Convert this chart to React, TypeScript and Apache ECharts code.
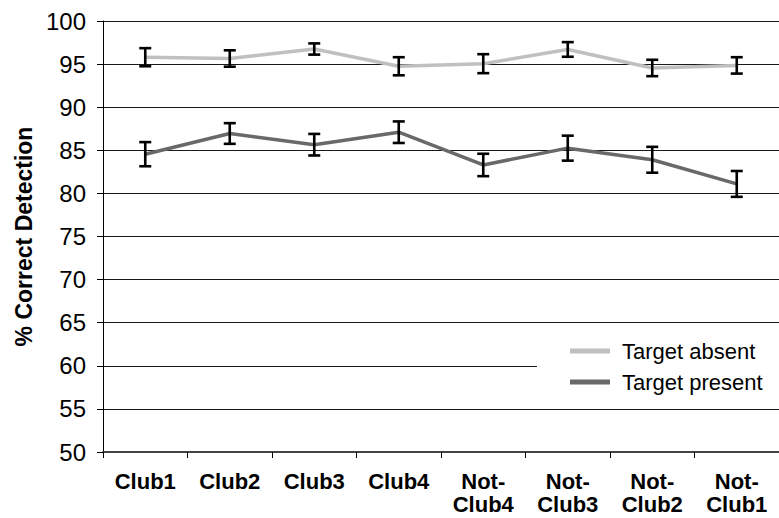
import React, { useEffect, useRef } from "react";
import * as echarts from "echarts";

const categories = ["Club1", "Club2", "Club3", "Club4", "Not-\nClub4", "Not-\nClub3", "Not-\nClub2", "Not-\nClub1"];
const absentValues = [95.8, 95.65, 96.75, 94.75, 95.05, 96.7, 94.55, 94.85];
const absentErrors = [1.05, 0.95, 0.65, 1.05, 1.1, 0.85, 0.95, 0.95];
const presentValues = [84.55, 86.95, 85.65, 87.1, 83.3, 85.25, 83.9, 81.1];
const presentErrors = [1.4, 1.2, 1.25, 1.25, 1.3, 1.45, 1.5, 1.5];
const seriesNames = ["Target absent", "Target present"];
const yTitle = "% Correct Detection";

const errorData = (vals: number[], errs: number[]) =>
  vals.map((v, i) => [i, v - errs[i], v + errs[i]]);

const renderErrorBar = (params: any, api: any) => {
  const x = api.value(0);
  const lo = api.coord([x, api.value(1)]);
  const hi = api.coord([x, api.value(2)]);
  const hw = 6;
  const style = { stroke: "#000", lineWidth: 2.6 };
  return {
    type: "group",
    children: [
      { type: "line", shape: { x1: hi[0], y1: hi[1], x2: lo[0], y2: lo[1] }, style },
      { type: "line", shape: { x1: hi[0] - hw, y1: hi[1], x2: hi[0] + hw, y2: hi[1] }, style },
      { type: "line", shape: { x1: lo[0] - hw, y1: lo[1], x2: lo[0] + hw, y2: lo[1] }, style },
    ],
  };
};

export default function App() {
  const ref = useRef<HTMLDivElement>(null);
  useEffect(() => {
    if (!ref.current) return;
    const chart = echarts.init(ref.current, null, { renderer: "svg" });
    chart.setOption({
      animation: false,
      backgroundColor: "#fff",
      textStyle: { fontFamily: "Liberation Sans, Arial, sans-serif" },
      grid: { left: 103, right: -9, top: 21, bottom: 66, containLabel: false },
      legend: {
        data: seriesNames,
        orient: "vertical",
        left: 537,
        top: 332,
        padding: [8, 20, 8, 33],
        itemGap: 9,
        itemWidth: 40,
        itemHeight: 5,
        icon: "rect",
        backgroundColor: "#fff",
        textStyle: { fontSize: 22, color: "#000", lineHeight: 22, padding: [0, 0, 0, 7] },
      },
      xAxis: {
        type: "category",
        data: categories,
        boundaryGap: true,
        axisLine: { show: true, lineStyle: { color: "#444", width: 2 } },
        axisTick: { show: true, length: 6, lineStyle: { color: "#000" } },
        axisLabel: {
          interval: 0,
          fontSize: 22,
          fontWeight: "bold",
          color: "#000",
          lineHeight: 23,
          margin: 18,
        },
        splitLine: { show: false },
      },
      yAxis: {
        type: "value",
        min: 50,
        max: 100,
        interval: 5,
        name: yTitle,
        nameLocation: "middle",
        nameGap: 68,
        nameTextStyle: { fontSize: 23, fontWeight: "bold", color: "#000" },
        axisLine: { show: true, lineStyle: { color: "#000", width: 1 } },
        axisTick: { show: true, length: 6, lineStyle: { color: "#000" } },
        axisLabel: { fontSize: 24, color: "#000", margin: 17 },
        splitLine: { show: true, lineStyle: { color: "#1a1a1a", width: 1 } },
      },
      series: [
        {
          name: seriesNames[0],
          type: "line",
          data: absentValues,
          symbol: "none",
          lineStyle: { color: "#c0c0c0", width: 3.5 },
          itemStyle: { color: "#c0c0c0" },
          z: 3,
        },
        {
          name: seriesNames[1],
          type: "line",
          data: presentValues,
          symbol: "none",
          lineStyle: { color: "#696969", width: 3.5 },
          itemStyle: { color: "#696969" },
          z: 3,
        },
        {
          type: "custom",
          renderItem: renderErrorBar,
          data: errorData(absentValues, absentErrors),
          z: 5,
        },
        {
          type: "custom",
          renderItem: renderErrorBar,
          data: errorData(presentValues, presentErrors),
          z: 5,
        },
      ],
    });
    return () => chart.dispose();
  }, []);
  return (
    <div
      ref={ref}
      style={{ position: "fixed", left: 0, top: 0, width: 779, height: 518 }}
    />
  );
}
